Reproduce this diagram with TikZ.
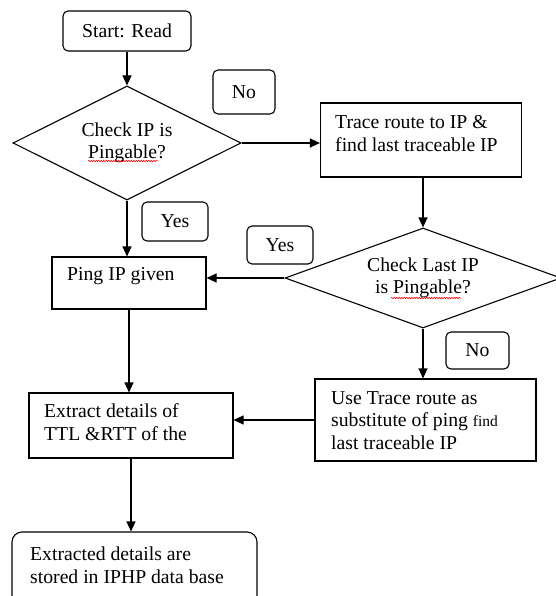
\documentclass[tikz,border=0pt]{standalone}
\usepackage{fontspec}
\setmainfont{Liberation Serif}
\usetikzlibrary{shapes.geometric,arrows.meta,decorations.pathmorphing}

\newcommand{\flowfont}{\fontsize{19.7}{22.5}\selectfont}

\tikzset{
  box/.style={draw=black, line width=1.1pt, rectangle, inner sep=0pt, font=\flowfont},
  rbox/.style={box, rounded corners=5pt},
  decision/.style={draw=black, line width=1.1pt, diamond, inner sep=0pt, align=center, font=\flowfont},
  txt/.style={inner sep=0pt, align=left, anchor=west, font=\flowfont},
  flow/.style={draw=black, line width=1.1pt, -{Triangle[length=10pt,width=9pt]}},
  spell/.style={red, line width=0.5pt, decorate, decoration={snake, amplitude=0.8pt, segment length=2.5pt}}
}

\begin{document}
\begin{tikzpicture}[x=1pt,y=-1pt]
  \useasboundingbox (0,0) rectangle (555,596);

  \node[rbox, minimum width=128pt, minimum height=40pt] (start) at (127,31) {Start: Read};

  \node[decision, aspect=2, minimum width=228pt, minimum height=114pt] (check) at (127,143) {Check IP is\\Pingable?};
  \draw[spell] (88,161) -- (158,161);

  \node[box, minimum width=201pt, minimum height=74pt] (trace) at (421,140) {};
  \path (335,133.5) node[txt] (tracetxt) {Trace route to IP \&\\find last traceable IP};

  \node[decision, aspect=2.76, minimum width=276pt, minimum height=100pt] (checklast) at (423,278) {Check Last IP\\is Pingable?};
  \draw[spell] (391,298) -- (461,298);

  \node[box, minimum width=154pt, minimum height=52pt] (ping) at (129,283) {};
  \path (67,276) node[txt] (pingtxt) {Ping IP given};

  \node[box, minimum width=221pt, minimum height=82pt] (subst) at (425.5,420) {};
  \path (331,420.5) node[txt] (substtxt) {Use Trace route as\\substitute of ping {\fontsize{15.5}{22.5}\selectfont find}\\last traceable IP};

  \node[box, minimum width=204pt, minimum height=65pt] (extract) at (131,425.5) {};
  \path (44,422) node[txt] (extracttxt) {Extract details of\\TTL \&RTT of the};

  \node[rbox, rounded corners=10pt, minimum width=245pt, minimum height=80pt] (store) at (134.5,572) {};
  \path (30,565.5) node[txt] (storetxt) {Extracted details are\\stored in IPHP data base};

  \node[rbox, minimum width=62pt, minimum height=44pt] (no1) at (244,92) {No};
  \node[rbox, minimum width=66pt, minimum height=39pt] (yes1) at (175,221.5) {Yes};
  \node[rbox, minimum width=66pt, minimum height=38pt] (yes2) at (280,245) {Yes};
  \node[rbox, minimum width=63pt, minimum height=37pt] (no2) at (477.5,350.5) {No};

  \draw[flow] (start.south) -- (check.north);
  \draw[flow] (check.east) -- (check.east -| trace.west);
  \draw[flow] (checklast.north |- trace.south) -- (checklast.north);
  \draw[flow] (check.south) -- (check.south |- ping.north);
  \draw[flow] (checklast.west) -- (checklast.west -| ping.east);
  \draw[flow] (checklast.south) -- (checklast.south |- subst.north);
  \draw[flow] (ping.south) -- (ping.south |- extract.north);
  \draw[flow] (subst.west) -- (subst.west -| extract.east);
  \draw[flow] (extract.south) -- (extract.south |- store.north);
\end{tikzpicture}
\end{document}
